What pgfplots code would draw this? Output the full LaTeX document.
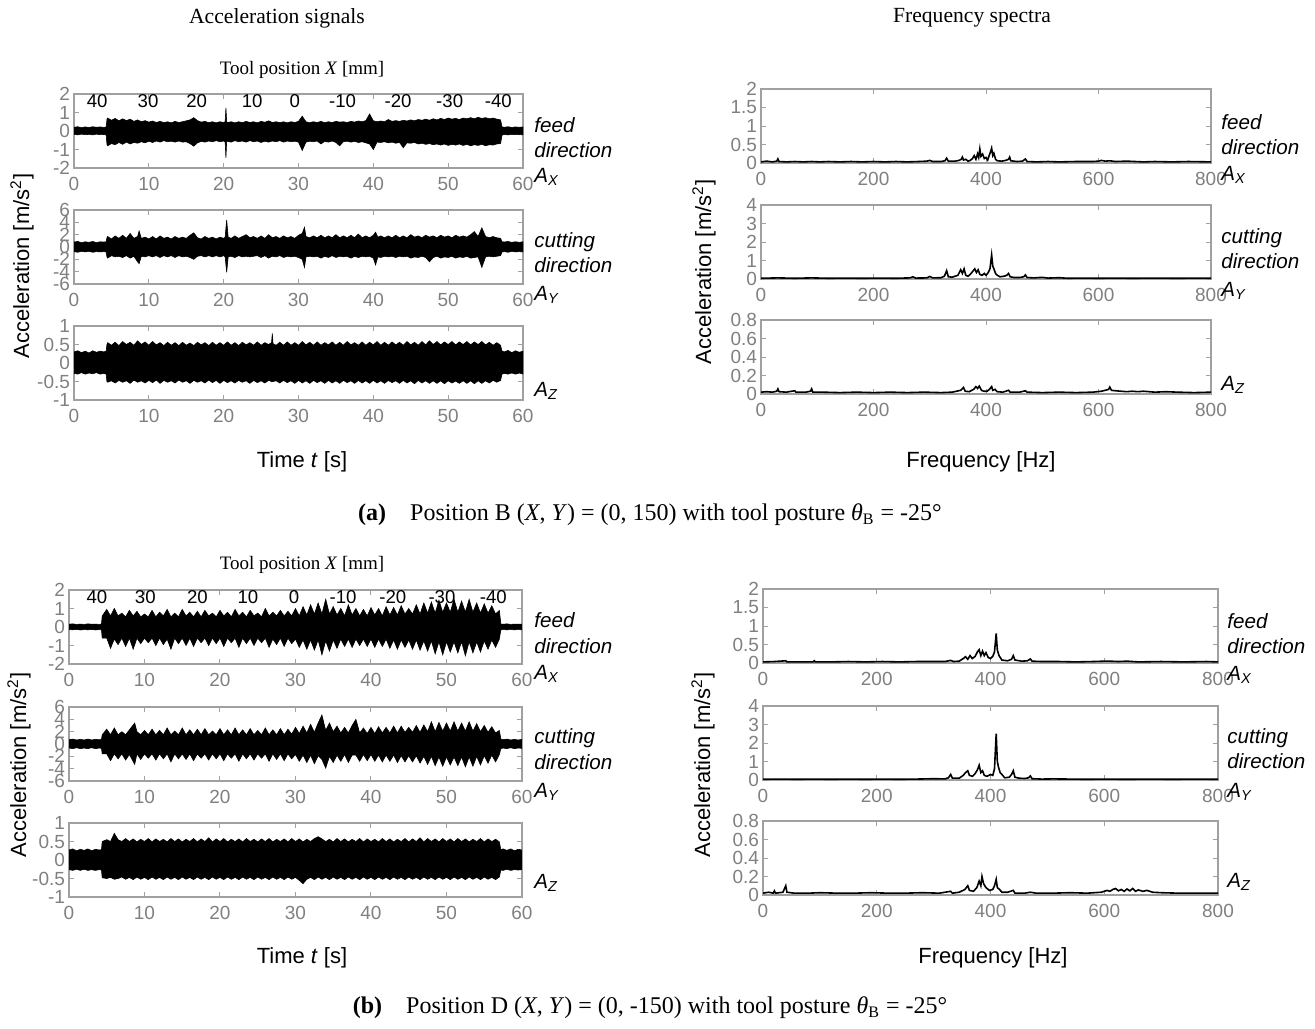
\documentclass[border=0pt]{standalone}
\usepackage{fontspec}
\setmainfont{Liberation Serif}
\setsansfont{Liberation Sans}
\usepackage{pgfplots}
\pgfplotsset{compat=1.18}
\usepackage{pgfplotstable}
\definecolor{axgray}{RGB}{160,160,160}
\definecolor{tgray}{RGB}{128,128,128}

\pgfplotsset{
  myax/.style={scale only axis, anchor=south west,
    axis line style={draw=axgray, line width=0.6pt},
    every tick/.style={draw=axgray, line width=0.5pt},
    major tick length=2.5pt, tick align=inside,
    tick label style={font=\sffamily\fontsize{9.5}{10}\selectfont, text=tgray},
    every x tick label/.append style={yshift=-1.2pt},
    every y tick label/.append style={xshift=1.5pt},
    /pgf/number format/assume math mode=true},
  tsig/.style={myax, xmin=0, xmax=60, xtick={0,10,...,60}, stack plots=y},
  spec/.style={myax, xmin=0, xmax=800, xtick={0,200,...,800}, ymin=0},
  sp/.style={black, line width=0.8pt},
}
\newcommand\band[1]{%
  \addplot[draw=none] table[x=t,y=l]{#1};
  \addplot[fill=black, draw=black, line width=0.3pt] table[x=t,y expr=\thisrow{u}-\thisrow{l}]{#1} \closedcycle;
}
\newcommand\toolp[2]{\node[anchor=north, inner sep=0.5pt, yshift=0.5pt, font=\sffamily\fontsize{9.3}{10}\selectfont] at (axis cs:#1,2) {#2};}
\newcommand\sidel[3]{\node[anchor=base west, inner sep=0pt, font=\sffamily\itshape\fontsize{10.3}{12}\selectfont] at (#1pt,#2pt) {#3};}

% ---------- time signals, panel (a) ----------
\pgfplotstableread[row sep=\\]{t u l\\
0 0.20 -0.18\\ 0.5 0.23 -0.21\\ 1 0.18 -0.17\\ 1.5 0.22 -0.2\\ 2 0.19 -0.18\\ 2.5 0.23 -0.21\\ 3 0.2 -0.17\\ 3.5 0.22 -0.2\\ 4 0.19 -0.19\\ 4.3 0.22 -0.21\\
4.4 0.62 -0.72\\ 4.5 0.7 -0.8\\ 5 0.58 -0.68\\ 5.5 0.68 -0.74\\ 6 0.55 -0.62\\ 6.5 0.66 -0.72\\ 7 0.56 -0.6\\ 7.5 0.64 -0.7\\ 8 0.52 -0.62\\ 8.5 0.6 -0.66\\ 9 0.5 -0.58\\ 9.5 0.56 -0.64\\
10 0.48 -0.55\\ 10.5 0.54 -0.62\\ 11 0.46 -0.54\\ 11.5 0.52 -0.6\\ 12 0.45 -0.52\\ 12.5 0.5 -0.58\\ 13 0.44 -0.55\\ 13.5 0.52 -0.6\\ 14 0.46 -0.54\\ 14.5 0.5 -0.6\\ 15 0.55 -0.58\\ 15.5 0.6 -0.68\\ 16 0.72 -0.82\\ 16.5 0.56 -0.64\\ 17 0.48 -0.56\\ 17.5 0.52 -0.6\\ 18 0.45 -0.54\\ 18.5 0.5 -0.58\\ 19 0.44 -0.52\\ 19.5 0.5 -0.58\\
20 0.46 -0.54\\ 20.2 0.5 -0.6\\ 20.3 1.25 -1.45\\ 20.4 0.52 -0.58\\ 20.5 0.45 -0.55\\ 21 0.5 -0.6\\ 21.5 0.44 -0.52\\ 22 0.5 -0.58\\ 22.5 0.45 -0.54\\ 23 0.52 -0.6\\ 23.5 0.46 -0.52\\ 24 0.5 -0.58\\ 24.5 0.44 -0.54\\ 25 0.52 -0.62\\ 25.5 0.47 -0.55\\ 26 0.55 -0.6\\ 26.5 0.46 -0.54\\ 27 0.5 -0.58\\ 27.5 0.45 -0.52\\ 28 0.5 -0.6\\ 28.5 0.44 -0.54\\ 29 0.5 -0.58\\ 29.5 0.46 -0.55\\
30 0.52 -0.6\\ 30.5 0.8 -1.05\\ 31 0.5 -0.6\\ 31.5 0.45 -0.55\\ 32 0.5 -0.58\\ 32.5 0.46 -0.54\\ 33 0.52 -0.7\\ 33.5 0.45 -0.56\\ 34 0.5 -0.6\\ 34.5 0.46 -0.54\\ 35 0.52 -0.62\\ 35.5 0.48 -0.8\\ 36 0.5 -0.58\\ 36.5 0.46 -0.55\\ 37 0.52 -0.6\\ 37.5 0.48 -0.56\\ 38 0.54 -0.62\\ 38.5 0.5 -0.58\\ 39 0.56 -0.64\\ 39.5 0.92 -0.7\\
40 0.55 -1.0\\ 40.5 0.5 -0.6\\ 41 0.54 -0.62\\ 41.5 0.5 -0.58\\ 42 0.62 -0.64\\ 42.5 0.52 -0.6\\ 43 0.56 -0.66\\ 43.5 0.52 -0.62\\ 44 0.58 -0.9\\ 44.5 0.54 -0.64\\ 45 0.6 -0.66\\ 45.5 0.55 -0.62\\ 46 0.62 -0.7\\ 46.5 0.58 -0.66\\ 47 0.64 -0.72\\ 47.5 0.58 -0.68\\ 48 0.66 -0.74\\ 48.5 0.6 -0.7\\ 49 0.68 -0.76\\ 49.5 0.62 -0.7\\
50 0.7 -0.78\\ 50.5 0.64 -0.72\\ 51 0.68 -0.76\\ 51.5 0.62 -0.7\\ 52 0.7 -0.78\\ 52.5 0.66 -0.72\\ 53 0.72 -0.8\\ 53.5 0.66 -0.74\\ 54 0.74 -0.78\\ 54.5 0.68 -0.72\\ 55 0.72 -0.8\\ 55.5 0.66 -0.74\\ 56 0.7 -0.76\\ 56.5 0.64 -0.7\\ 57 0.6 -0.68\\
57.2 0.22 -0.22\\ 57.5 0.2 -0.19\\ 58 0.23 -0.21\\ 58.5 0.19 -0.18\\ 59 0.22 -0.2\\ 59.5 0.2 -0.19\\ 60 0.22 -0.21\\
}\aAx

\pgfplotstableread[row sep=\\]{t u l\\
0 0.8 -0.75\\ 0.5 0.9 -0.85\\ 1 0.7 -0.7\\ 1.5 0.85 -0.8\\ 2 0.75 -0.7\\ 2.5 0.9 -0.85\\ 3 0.7 -0.75\\ 3.5 0.85 -0.8\\ 4 0.8 -0.75\\ 4.3 0.85 -0.8\\
4.4 1.5 -1.6\\ 4.5 1.7 -1.8\\ 5 1.3 -1.4\\ 5.5 1.8 -1.6\\ 6 1.4 -1.5\\ 6.5 1.9 -1.7\\ 7 1.4 -1.4\\ 7.5 2.2 -1.8\\ 8 1.4 -1.5\\ 8.5 1.7 -2.4\\ 8.7 2.6 -2.7\\ 9 1.4 -1.5\\ 9.5 1.6 -1.6\\
10 1.3 -1.4\\ 10.5 1.7 -1.6\\ 11 1.3 -1.4\\ 11.5 1.8 -1.7\\ 12 1.4 -1.4\\ 12.5 1.6 -1.6\\ 13 1.3 -1.4\\ 13.5 1.7 -1.7\\ 14 1.4 -1.4\\ 14.5 1.6 -1.6\\ 15 1.4 -1.5\\ 15.5 1.9 -1.7\\ 16 2.3 -2.0\\ 16.5 1.5 -1.5\\ 17 1.3 -1.4\\ 17.5 1.7 -1.6\\ 18 1.4 -1.4\\ 18.5 1.6 -1.6\\ 19 1.3 -1.4\\ 19.5 1.6 -1.6\\
20 1.4 -1.4\\ 20.2 1.6 -1.6\\ 20.4 4.4 -4.1\\ 20.6 1.6 -1.6\\ 21 1.4 -1.5\\ 21.5 1.8 -1.7\\ 22 1.4 -1.4\\ 22.5 1.7 -1.6\\ 23 2.0 -1.5\\ 23.5 1.5 -1.6\\ 24 1.7 -1.5\\ 24.5 1.4 -1.4\\ 25 1.8 -1.7\\ 25.5 1.4 -1.4\\ 26 2.0 -1.8\\ 26.5 1.5 -1.5\\ 27 1.7 -1.6\\ 27.5 1.4 -1.4\\ 28 1.8 -1.7\\ 28.5 1.5 -1.5\\ 29 1.7 -1.6\\ 29.5 1.4 -1.5\\
30 1.9 -1.7\\ 30.5 2.2 -2.0\\ 30.8 3.2 -3.3\\ 31 1.7 -1.6\\ 31.5 1.5 -1.5\\ 32 1.8 -1.6\\ 32.5 1.5 -1.5\\ 33 1.9 -1.8\\ 33.5 1.5 -1.5\\ 34 1.8 -1.7\\ 34.5 1.5 -1.4\\ 35 2.0 -1.7\\ 35.5 1.5 -1.5\\ 36 1.8 -1.6\\ 36.5 1.5 -1.5\\ 37 1.9 -1.8\\ 37.5 1.5 -1.5\\ 38 2.1 -1.7\\ 38.5 1.5 -1.5\\ 39 1.8 -1.6\\ 39.5 1.5 -1.5\\
40 1.9 -1.8\\ 40.3 2.4 -2.9\\ 40.6 1.6 -1.6\\ 41 1.8 -1.7\\ 41.5 1.5 -1.5\\ 42 1.8 -1.6\\ 42.5 1.5 -1.5\\ 43 1.9 -1.7\\ 43.5 1.5 -1.5\\ 44 1.8 -1.6\\ 44.5 1.5 -1.5\\ 45 2.0 -1.8\\ 45.5 1.6 -1.6\\ 46 1.8 -1.7\\ 46.5 1.5 -1.5\\ 47 1.9 -1.7\\ 47.5 1.6 -2.4\\ 48 1.8 -1.7\\ 48.5 1.5 -1.5\\ 49 1.9 -1.8\\ 49.5 1.6 -1.6\\
50 1.8 -1.7\\ 50.5 1.5 -1.5\\ 51 1.9 -1.8\\ 51.5 1.6 -1.6\\ 52 1.8 -1.7\\ 52.5 1.6 -1.5\\ 53 2.0 -1.8\\ 53.5 2.5 -1.7\\ 54 1.7 -1.6\\ 54.5 3.1 -3.3\\ 55 1.7 -1.6\\ 55.5 1.5 -1.5\\ 56 1.7 -1.6\\ 56.5 1.5 -1.5\\ 57 1.4 -1.4\\
57.2 0.85 -0.8\\ 57.5 0.8 -0.75\\ 58 0.9 -0.85\\ 58.5 0.75 -0.7\\ 59 0.85 -0.8\\ 59.5 0.75 -0.75\\ 60 0.85 -0.8\\
}\aAy

\pgfplotstableread[row sep=\\]{t u l\\
0 0.3 -0.28\\ 0.5 0.33 -0.3\\ 1 0.28 -0.26\\ 1.5 0.32 -0.3\\ 2 0.27 -0.27\\ 2.5 0.33 -0.29\\ 3 0.29 -0.26\\ 3.5 0.32 -0.3\\ 4 0.3 -0.28\\ 4.3 0.32 -0.3\\
4.4 0.5 -0.5\\ 4.5 0.55 -0.52\\ 5 0.48 -0.48\\ 5.5 0.56 -0.54\\ 6 0.47 -0.47\\ 6.5 0.58 -0.52\\ 7 0.5 -0.48\\ 7.5 0.56 -0.55\\ 8 0.48 -0.46\\ 8.5 0.6 -0.52\\ 9 0.5 -0.48\\ 9.5 0.57 -0.54\\
10 0.48 -0.47\\ 10.5 0.58 -0.53\\ 11 0.49 -0.46\\ 11.5 0.55 -0.55\\ 12 0.47 -0.47\\ 12.5 0.56 -0.52\\ 13 0.48 -0.48\\ 13.5 0.55 -0.54\\ 14 0.47 -0.46\\ 14.5 0.56 -0.52\\ 15 0.48 -0.48\\ 15.5 0.54 -0.55\\ 16 0.47 -0.47\\ 16.5 0.56 -0.52\\ 17 0.49 -0.48\\ 17.5 0.55 -0.54\\ 18 0.47 -0.46\\ 18.5 0.56 -0.53\\ 19 0.48 -0.47\\ 19.5 0.55 -0.55\\
20 0.48 -0.47\\ 20.5 0.57 -0.53\\ 21 0.48 -0.48\\ 21.5 0.55 -0.54\\ 22 0.47 -0.47\\ 22.5 0.56 -0.52\\ 23 0.49 -0.48\\ 23.5 0.55 -0.55\\ 24 0.48 -0.47\\ 24.5 0.57 -0.53\\ 25 0.48 -0.48\\ 25.5 0.55 -0.54\\ 26 0.5 -0.47\\ 26.4 0.55 -0.5\\ 26.5 0.8 -0.5\\ 26.6 0.52 -0.5\\ 27 0.48 -0.48\\ 27.5 0.56 -0.54\\ 28 0.48 -0.47\\ 28.5 0.57 -0.53\\ 29 0.48 -0.48\\ 29.5 0.55 -0.55\\
30 0.48 -0.47\\ 30.5 0.58 -0.54\\ 31 0.49 -0.48\\ 31.5 0.56 -0.55\\ 32 0.48 -0.47\\ 32.5 0.57 -0.53\\ 33 0.48 -0.48\\ 33.5 0.55 -0.55\\ 34 0.49 -0.47\\ 34.5 0.57 -0.54\\ 35 0.48 -0.48\\ 35.5 0.56 -0.55\\ 36 0.48 -0.47\\ 36.5 0.58 -0.53\\ 37 0.49 -0.48\\ 37.5 0.55 -0.55\\ 38 0.48 -0.47\\ 38.5 0.57 -0.54\\ 39 0.48 -0.48\\ 39.5 0.56 -0.55\\
40 0.49 -0.47\\ 40.5 0.58 -0.54\\ 41 0.48 -0.48\\ 41.5 0.56 -0.55\\ 42 0.48 -0.47\\ 42.5 0.57 -0.53\\ 43 0.49 -0.48\\ 43.5 0.56 -0.55\\ 44 0.48 -0.47\\ 44.5 0.58 -0.54\\ 45 0.49 -0.48\\ 45.5 0.56 -0.56\\ 46 0.48 -0.47\\ 46.5 0.58 -0.54\\ 47 0.49 -0.48\\ 47.5 0.6 -0.55\\ 48 0.5 -0.48\\ 48.5 0.58 -0.55\\ 49 0.49 -0.48\\ 49.5 0.57 -0.56\\
50 0.5 -0.48\\ 50.5 0.58 -0.54\\ 51 0.49 -0.49\\ 51.5 0.57 -0.55\\ 52 0.5 -0.48\\ 52.5 0.58 -0.55\\ 53 0.49 -0.48\\ 53.5 0.57 -0.56\\ 54 0.5 -0.48\\ 54.5 0.58 -0.55\\ 55 0.49 -0.48\\ 55.5 0.56 -0.54\\ 56 0.48 -0.47\\ 56.5 0.55 -0.52\\ 57 0.48 -0.47\\
57.2 0.32 -0.3\\ 57.5 0.3 -0.28\\ 58 0.34 -0.3\\ 58.5 0.28 -0.27\\ 59 0.33 -0.3\\ 59.5 0.29 -0.27\\ 60 0.32 -0.3\\
}\aAz

% ---------- time signals, panel (b) ----------
\pgfplotstableread[row sep=\\]{t u l\\
0 0.15 -0.14\\ 0.5 0.17 -0.15\\ 1 0.14 -0.13\\ 1.5 0.16 -0.16\\ 2 0.14 -0.14\\ 2.5 0.17 -0.15\\ 3 0.15 -0.13\\ 3.5 0.16 -0.16\\ 4 0.14 -0.14\\ 4.3 0.16 -0.15\\
4.4 0.6 -0.6\\ 5 0.95 -0.6\\ 5.5 0.6 -1.15\\ 6 1.0 -0.65\\ 6.5 0.6 -0.95\\ 7 0.75 -0.6\\ 7.5 0.55 -1.05\\ 8 0.9 -0.6\\ 8.5 0.6 -1.2\\ 9 0.85 -0.6\\ 9.5 0.55 -0.9\\
10 0.7 -0.6\\ 10.5 0.55 -0.85\\ 11 0.9 -0.6\\ 11.5 0.55 -1.0\\ 12 0.8 -0.6\\ 12.5 0.6 -0.95\\ 13 0.95 -0.65\\ 13.5 0.55 -1.2\\ 14 0.75 -0.6\\ 14.5 0.55 -0.9\\ 15 0.95 -0.6\\ 15.5 0.6 -1.0\\ 16 0.8 -0.6\\ 16.5 0.55 -1.05\\ 17 0.85 -0.6\\ 17.5 0.55 -0.85\\ 18 0.9 -0.6\\ 18.5 0.6 -1.0\\ 19 0.75 -0.6\\ 19.5 0.55 -0.9\\
20 0.9 -0.6\\ 20.5 0.6 -1.05\\ 21 0.8 -0.6\\ 21.5 0.55 -0.85\\ 22 0.95 -0.6\\ 22.5 0.6 -1.1\\ 23 0.8 -0.6\\ 23.5 0.55 -0.9\\ 24 0.9 -0.6\\ 24.5 0.6 -1.0\\ 25 0.75 -0.6\\ 25.5 0.55 -0.85\\ 26 1.0 -0.6\\ 26.5 0.6 -1.1\\ 27 0.8 -0.65\\ 27.5 0.6 -0.95\\ 28 0.9 -0.6\\ 28.5 0.6 -1.05\\ 29 0.85 -0.6\\ 29.5 0.6 -0.9\\
30 1.0 -0.65\\ 30.5 0.6 -1.1\\ 31 1.1 -0.7\\ 31.5 0.65 -1.2\\ 32 1.2 -0.7\\ 32.5 0.7 -1.25\\ 33 1.3 -0.7\\ 33.5 0.7 -1.5\\ 34 1.5 -0.75\\ 34.5 0.7 -1.3\\ 35 1.1 -0.7\\ 35.5 0.65 -1.15\\ 36 1.0 -0.65\\ 36.5 0.6 -1.05\\ 37 1.2 -0.65\\ 37.5 0.65 -1.1\\ 38 1.0 -0.65\\ 38.5 0.6 -1.0\\ 39 0.95 -0.65\\ 39.5 0.6 -1.05\\
40 1.05 -0.65\\ 40.5 0.65 -1.1\\ 41 1.0 -0.65\\ 41.5 0.6 -1.05\\ 42 1.1 -0.65\\ 42.5 0.65 -1.15\\ 43 1.05 -0.7\\ 43.5 0.65 -1.2\\ 44 1.15 -0.7\\ 44.5 0.7 -1.1\\ 45 1.0 -0.7\\ 45.5 0.7 -1.2\\ 46 1.2 -0.7\\ 46.5 0.7 -1.25\\ 47 1.3 -0.75\\ 47.5 0.75 -1.3\\ 48 1.35 -0.75\\ 48.5 0.75 -1.45\\ 49 1.45 -0.8\\ 49.5 0.8 -1.5\\
50 1.3 -0.8\\ 50.5 0.8 -1.35\\ 51 1.5 -0.8\\ 51.5 0.8 -1.4\\ 52 1.4 -0.8\\ 52.5 0.8 -1.55\\ 53 1.5 -0.8\\ 53.5 0.8 -1.4\\ 54 1.3 -0.8\\ 54.5 0.75 -1.35\\ 55 1.25 -0.75\\ 55.5 0.75 -1.2\\ 56 1.15 -0.7\\ 56.5 0.7 -1.1\\ 57 0.9 -0.65\\
57.2 0.16 -0.15\\ 57.5 0.15 -0.14\\ 58 0.17 -0.15\\ 58.5 0.14 -0.14\\ 59 0.16 -0.15\\ 59.5 0.15 -0.14\\ 60 0.16 -0.15\\
}\bAx

\pgfplotstableread[row sep=\\]{t u l\\
0 0.7 -0.65\\ 0.5 0.8 -0.75\\ 1 0.65 -0.6\\ 1.5 0.75 -0.75\\ 2 0.65 -0.65\\ 2.5 0.8 -0.75\\ 3 0.65 -0.6\\ 3.5 0.75 -0.75\\ 4 0.7 -0.65\\ 4.3 0.75 -0.7\\
4.4 1.5 -1.6\\ 5 2.4 -1.6\\ 5.5 1.5 -2.7\\ 6 2.6 -1.6\\ 6.5 1.5 -2.4\\ 7 2.0 -1.6\\ 7.5 1.5 -2.6\\ 8 2.3 -1.7\\ 8.7 3.4 -3.3\\ 9 2.0 -1.6\\ 9.5 1.5 -2.5\\
10 2.2 -1.6\\ 10.5 1.5 -2.3\\ 11 2.4 -1.6\\ 11.5 1.5 -2.6\\ 12 2.2 -1.6\\ 12.5 1.5 -2.4\\ 13 2.6 -1.6\\ 13.5 1.5 -2.9\\ 14 2.1 -1.6\\ 14.5 1.5 -2.4\\ 15 2.6 -1.6\\ 15.5 1.5 -2.5\\ 16 2.3 -1.6\\ 16.5 1.5 -2.7\\ 17 2.4 -1.6\\ 17.5 1.5 -2.3\\ 18 2.5 -1.6\\ 18.5 1.5 -2.6\\ 19 2.1 -1.6\\ 19.5 1.5 -2.4\\
20 2.5 -1.6\\ 20.5 1.5 -2.7\\ 21 2.3 -1.6\\ 21.5 1.5 -2.3\\ 22 2.6 -1.6\\ 22.5 1.5 -2.8\\ 23 2.3 -1.6\\ 23.5 1.5 -2.4\\ 24 2.5 -1.6\\ 24.5 1.5 -2.6\\ 25 2.2 -1.6\\ 25.5 1.5 -2.3\\ 26 2.6 -1.6\\ 26.5 1.5 -2.8\\ 27 2.3 -1.6\\ 27.5 1.5 -2.5\\ 28 2.5 -1.6\\ 28.5 1.5 -2.7\\ 29 2.4 -1.6\\ 29.5 1.6 -2.4\\
30 2.7 -1.7\\ 30.5 1.7 -2.8\\ 31 2.9 -1.8\\ 31.5 1.8 -3.0\\ 32 3.2 -1.8\\ 32.5 1.9 -3.2\\ 33 3.4 -1.9\\ 33.5 4.7 -2.5\\ 34 2.2 -3.9\\ 34.5 3.4 -2.0\\ 35 2.0 -3.0\\ 35.5 2.9 -1.8\\ 36 1.8 -2.8\\ 36.5 2.7 -1.7\\ 37 1.8 -3.0\\ 37.5 3.0 -1.8\\ 38 4.0 -1.8\\ 38.5 1.8 -2.8\\ 39 2.6 -1.7\\ 39.5 1.7 -2.7\\
40 2.7 -1.7\\ 40.5 1.7 -2.8\\ 41 2.8 -1.8\\ 41.5 1.8 -2.9\\ 42 2.7 -1.8\\ 42.5 1.8 -2.8\\ 43 2.9 -1.8\\ 43.5 1.8 -3.0\\ 44 2.9 -1.9\\ 44.5 1.9 -2.9\\ 45 2.7 -1.9\\ 45.5 1.9 -2.9\\ 46 3.0 -1.9\\ 46.5 1.9 -3.1\\ 47 3.1 -2.0\\ 47.5 2.0 -3.3\\ 48 3.6 -2.0\\ 48.5 2.0 -3.5\\ 49 3.5 -2.1\\ 49.5 2.1 -3.6\\
50 3.4 -2.1\\ 50.5 2.1 -3.4\\ 51 3.6 -2.1\\ 51.5 2.1 -3.5\\ 52 3.4 -2.1\\ 52.5 2.1 -3.7\\ 53 3.6 -2.1\\ 53.5 2.1 -3.6\\ 54 3.3 -2.0\\ 54.5 2.0 -3.4\\ 55 3.0 -1.9\\ 55.5 1.9 -3.1\\ 56 2.8 -1.8\\ 56.5 1.8 -2.9\\ 57 2.2 -1.7\\
57.2 0.8 -0.75\\ 57.5 0.7 -0.65\\ 58 0.8 -0.75\\ 58.5 0.65 -0.6\\ 59 0.75 -0.75\\ 59.5 0.65 -0.65\\ 60 0.75 -0.7\\
}\bAy

\pgfplotstableread[row sep=\\]{t u l\\
0 0.27 -0.26\\ 0.5 0.3 -0.28\\ 1 0.25 -0.25\\ 1.5 0.29 -0.28\\ 2 0.26 -0.25\\ 2.5 0.3 -0.28\\ 3 0.25 -0.26\\ 3.5 0.29 -0.28\\ 4 0.27 -0.26\\ 4.3 0.28 -0.27\\
4.4 0.5 -0.48\\ 5 0.55 -0.5\\ 5.5 0.5 -0.47\\ 6 0.72 -0.52\\ 6.5 0.55 -0.5\\ 7 0.5 -0.46\\ 7.5 0.58 -0.52\\ 8 0.5 -0.47\\ 8.5 0.57 -0.53\\ 9 0.49 -0.46\\ 9.5 0.56 -0.52\\
10 0.5 -0.47\\ 10.5 0.58 -0.53\\ 11 0.49 -0.46\\ 11.5 0.57 -0.52\\ 12 0.5 -0.47\\ 12.5 0.56 -0.53\\ 13 0.49 -0.46\\ 13.5 0.58 -0.52\\ 14 0.5 -0.47\\ 14.5 0.57 -0.53\\ 15 0.49 -0.46\\ 15.5 0.56 -0.52\\ 16 0.5 -0.47\\ 16.5 0.58 -0.53\\ 17 0.49 -0.46\\ 17.5 0.57 -0.52\\ 18 0.5 -0.47\\ 18.5 0.6 -0.53\\ 19 0.49 -0.46\\ 19.5 0.57 -0.52\\
20 0.5 -0.47\\ 20.5 0.58 -0.53\\ 21 0.49 -0.46\\ 21.5 0.56 -0.52\\ 22 0.5 -0.47\\ 22.5 0.57 -0.53\\ 23 0.49 -0.46\\ 23.5 0.58 -0.52\\ 24 0.5 -0.47\\ 24.5 0.56 -0.53\\ 25 0.49 -0.46\\ 25.5 0.57 -0.52\\ 26 0.5 -0.47\\ 26.5 0.58 -0.53\\ 27 0.49 -0.46\\ 27.5 0.56 -0.52\\ 28 0.5 -0.47\\ 28.5 0.57 -0.53\\ 29 0.49 -0.46\\ 29.5 0.58 -0.52\\
30 0.5 -0.47\\ 30.5 0.57 -0.55\\ 31 0.49 -0.64\\ 31.5 0.56 -0.52\\ 32 0.5 -0.47\\ 32.5 0.58 -0.53\\ 33 0.63 -0.46\\ 33.5 0.57 -0.52\\ 34 0.5 -0.47\\ 34.5 0.56 -0.53\\ 35 0.49 -0.46\\ 35.5 0.58 -0.52\\ 36 0.5 -0.47\\ 36.5 0.57 -0.53\\ 37 0.49 -0.46\\ 37.5 0.56 -0.52\\ 38 0.5 -0.47\\ 38.5 0.58 -0.53\\ 39 0.49 -0.46\\ 39.5 0.57 -0.52\\
40 0.5 -0.47\\ 40.5 0.56 -0.53\\ 41 0.49 -0.46\\ 41.5 0.58 -0.52\\ 42 0.5 -0.47\\ 42.5 0.57 -0.53\\ 43 0.49 -0.46\\ 43.5 0.56 -0.52\\ 44 0.5 -0.47\\ 44.5 0.58 -0.53\\ 45 0.49 -0.46\\ 45.5 0.57 -0.52\\ 46 0.5 -0.47\\ 46.5 0.6 -0.53\\ 47 0.49 -0.46\\ 47.5 0.58 -0.52\\ 48 0.5 -0.47\\ 48.5 0.57 -0.53\\ 49 0.49 -0.46\\ 49.5 0.58 -0.52\\
50 0.5 -0.47\\ 50.5 0.57 -0.53\\ 51 0.49 -0.46\\ 51.5 0.58 -0.52\\ 52 0.5 -0.47\\ 52.5 0.57 -0.53\\ 53 0.49 -0.46\\ 53.5 0.56 -0.52\\ 54 0.5 -0.47\\ 54.5 0.58 -0.53\\ 55 0.49 -0.46\\ 55.5 0.57 -0.52\\ 56 0.5 -0.47\\ 56.5 0.56 -0.53\\ 57 0.49 -0.46\\
57.2 0.28 -0.27\\ 57.5 0.3 -0.28\\ 58 0.26 -0.25\\ 58.5 0.3 -0.28\\ 59 0.25 -0.26\\ 59.5 0.29 -0.27\\ 60 0.27 -0.26\\
}\bAz

\begin{document}
\begin{tikzpicture}
\path[use as bounding box] (0,0) rectangle (657.5pt,-514pt);

% headers
\node[font=\fontsize{10.8}{12}\selectfont] at (138.5pt,-9pt) {Acceleration signals};
\node[font=\fontsize{10.8}{12}\selectfont] at (486pt,-9pt) {Frequency spectra};
\node[font=\fontsize{9.5}{11}\selectfont] at (151pt,-35pt) {Tool position \textit{X} [mm]};
\node[font=\fontsize{9.5}{11}\selectfont] at (151pt,-282.5pt) {Tool position \textit{X} [mm]};

% ===================== panel (a), left =====================
\begin{axis}[tsig, at={(37pt,-84pt)}, width=224.5pt, height=37pt, ymin=-2, ymax=2, ytick={-2,-1,0,1,2}]
\band{\aAx}
\toolp{3.1}{40}\toolp{9.9}{30}\toolp{16.4}{20}\toolp{23.8}{10}\toolp{29.5}{0}\toolp{35.9}{-10}\toolp{43.3}{-20}\toolp{50.2}{-30}\toolp{56.7}{-40}
\end{axis}
\begin{axis}[tsig, at={(37pt,-142pt)}, width=224.5pt, height=37pt, ymin=-6, ymax=6, ytick={-6,-4,...,6}]
\band{\aAy}
\end{axis}
\begin{axis}[tsig, at={(37pt,-200pt)}, width=224.5pt, height=37pt, ymin=-1, ymax=1, ytick={-1,-0.5,0,0.5,1}]
\band{\aAz}
\end{axis}

% ===================== panel (a), right =====================
\begin{axis}[spec, at={(380.5pt,-81.5pt)}, width=225pt, height=37pt, ymax=2, ytick={0,0.5,1,1.5,2}]
\addplot[sp] coordinates {(0,.03)(10,.05)(20,.03)(28,.05)(30,.11)(32,.04)(45,.03)(60,.04)(75,.03)(90,.04)(105,.03)(120,.04)(140,.03)(160,.04)(180,.03)(200,.04)(220,.03)(240,.04)(260,.03)(280,.04)(295,.05)(300,.07)(305,.04)(320,.04)(327,.06)(330,.13)(333,.05)(345,.05)(352,.07)(356,.1)(358,.16)(360,.08)(364,.1)(368,.05)(372,.07)(376,.12)(379,.2)(382,.1)(385,.25)(387,.15)(389,.38)(391,.18)(394,.24)(397,.12)(400,.15)(403,.08)(406,.22)(408,.3)(410,.4)(412,.2)(414,.26)(417,.1)(420,.06)(428,.05)(435,.07)(440,.1)(442,.16)(444,.06)(455,.04)(465,.05)(470,.11)(473,.04)(490,.03)(510,.04)(530,.03)(560,.04)(590,.04)(600,.05)(605,.07)(612,.05)(620,.06)(630,.04)(650,.05)(680,.03)(700,.04)(730,.03)(760,.04)(800,.03)};
\end{axis}
\begin{axis}[spec, at={(380.5pt,-139.5pt)}, width=225pt, height=37pt, ymax=4, ytick={0,1,2,3,4}]
\addplot[sp] coordinates {(0,.04)(30,.06)(60,.04)(90,.06)(120,.04)(150,.05)(180,.04)(210,.05)(240,.04)(265,.06)(270,.12)(275,.05)(295,.06)(300,.14)(305,.06)(320,.07)(326,.15)(330,.45)(333,.12)(340,.1)(350,.2)(355,.5)(358,.3)(361,.55)(364,.2)(368,.15)(372,.25)(376,.4)(380,.55)(383,.35)(386,.5)(389,.25)(393,.2)(397,.3)(400,.2)(404,.35)(407,.55)(410,1.3)(412,.7)(414,.55)(417,.3)(420,.2)(425,.12)(432,.15)(437,.2)(440,.3)(443,.12)(450,.08)(460,.08)(467,.12)(470,.22)(473,.08)(485,.06)(500,.09)(510,.05)(530,.07)(545,.04)(570,.05)(600,.04)(630,.05)(660,.04)(700,.05)(740,.04)(780,.05)(800,.04)};
\end{axis}
\begin{axis}[spec, at={(380.5pt,-197pt)}, width=225pt, height=37pt, ymax=0.8, ytick={0,0.2,0.4,0.6,0.8}]
\addplot[sp] coordinates {(0,.02)(10,.025)(20,.02)(28,.03)(30,.055)(32,.025)(45,.02)(55,.03)(60,.035)(62,.02)(80,.02)(88,.03)(90,.055)(92,.02)(110,.02)(140,.015)(170,.02)(200,.015)(230,.02)(260,.015)(290,.02)(320,.015)(340,.02)(355,.04)(360,.07)(363,.03)(370,.025)(378,.05)(382,.08)(385,.06)(388,.085)(392,.04)(396,.03)(402,.03)(406,.05)(410,.08)(412,.04)(416,.05)(420,.025)(430,.02)(440,.04)(443,.02)(460,.02)(470,.035)(473,.02)(500,.015)(530,.02)(560,.015)(590,.02)(605,.03)(612,.04)(618,.05)(620,.075)(623,.04)(630,.035)(640,.03)(650,.025)(660,.03)(670,.025)(680,.03)(700,.02)(720,.025)(740,.02)(770,.015)(800,.02)};
\end{axis}

% ===================== panel (b), left =====================
\begin{axis}[tsig, at={(34.5pt,-332pt)}, width=226.5pt, height=37pt, ymin=-2, ymax=2, ytick={-2,-1,0,1,2}]
\band{\bAx}
\toolp{3.7}{40}\toolp{10.1}{30}\toolp{17.0}{20}\toolp{23.7}{10}\toolp{29.8}{0}\toolp{36.3}{-10}\toolp{42.9}{-20}\toolp{49.4}{-30}\toolp{56.2}{-40}
\end{axis}
\begin{axis}[tsig, at={(34.5pt,-390.5pt)}, width=226.5pt, height=37pt, ymin=-6, ymax=6, ytick={-6,-4,...,6}]
\band{\bAy}
\end{axis}
\begin{axis}[tsig, at={(34.5pt,-448.5pt)}, width=226.5pt, height=37pt, ymin=-1, ymax=1, ytick={-1,-0.5,0,0.5,1}]
\band{\bAz}
\end{axis}

% ===================== panel (b), right =====================
\begin{axis}[spec, at={(381.5pt,-331.5pt)}, width=227.5pt, height=37pt, ymax=2, ytick={0,0.5,1,1.5,2}]
\addplot[sp] coordinates {(0,.03)(20,.04)(40,.06)(42,.03)(60,.03)(88,.03)(90,.06)(92,.03)(120,.03)(150,.04)(180,.03)(210,.04)(240,.03)(270,.04)(300,.04)(320,.04)(330,.07)(335,.04)(345,.05)(352,.12)(356,.17)(360,.1)(364,.2)(368,.12)(373,.18)(377,.3)(380,.36)(383,.2)(386,.32)(389,.2)(392,.28)(396,.15)(400,.12)(404,.18)(407,.3)(410,.8)(412,.35)(415,.2)(420,.08)(430,.06)(437,.1)(440,.2)(443,.08)(455,.05)(465,.06)(470,.11)(473,.05)(490,.04)(520,.04)(550,.03)(580,.04)(600,.05)(610,.05)(625,.04)(640,.05)(660,.03)(700,.04)(740,.03)(780,.04)(800,.03)};
\end{axis}
\begin{axis}[spec, at={(381.5pt,-390pt)}, width=227.5pt, height=37pt, ymax=4, ytick={0,1,2,3,4}]
\addplot[sp] coordinates {(0,.04)(30,.05)(60,.04)(90,.05)(120,.04)(150,.05)(180,.04)(210,.05)(240,.04)(270,.05)(300,.07)(320,.06)(326,.12)(330,.3)(333,.1)(345,.1)(352,.25)(356,.4)(360,.5)(363,.25)(368,.2)(373,.35)(377,.55)(380,.8)(383,.4)(386,.5)(389,.25)(394,.2)(400,.3)(404,.25)(407,.6)(410,2.5)(412,1.0)(414,.7)(417,.4)(420,.3)(425,.12)(433,.15)(437,.3)(440,.5)(443,.15)(450,.1)(460,.08)(467,.12)(470,.22)(473,.07)(490,.05)(510,.06)(540,.05)(570,.04)(600,.05)(640,.04)(680,.05)(720,.04)(760,.05)(800,.04)};
\end{axis}
\begin{axis}[spec, at={(381.5pt,-447.5pt)}, width=227.5pt, height=37pt, ymax=0.8, ytick={0,0.2,0.4,0.6,0.8}]
\addplot[sp] coordinates {(0,.02)(10,.03)(18,.02)(20,.045)(22,.02)(35,.03)(40,.1)(42,.03)(55,.02)(80,.02)(100,.025)(130,.02)(160,.02)(190,.025)(220,.02)(250,.02)(280,.025)(310,.02)(330,.04)(333,.02)(345,.03)(355,.06)(360,.1)(363,.05)(370,.04)(376,.08)(380,.15)(383,.1)(385,.2)(388,.12)(392,.08)(398,.05)(404,.06)(407,.1)(410,.17)(412,.08)(416,.06)(420,.03)(430,.03)(440,.05)(443,.02)(460,.02)(470,.03)(480,.02)(510,.02)(540,.025)(570,.02)(595,.03)(605,.05)(610,.04)(615,.06)(620,.07)(625,.045)(630,.06)(635,.04)(640,.065)(645,.045)(650,.07)(655,.04)(660,.055)(668,.04)(675,.05)(685,.03)(700,.025)(730,.02)(760,.02)(800,.02)};
\end{axis}

% y labels
\node[rotate=90, font=\sffamily\fontsize{11}{12}\selectfont] at (11pt,-133pt) {Acceleration [m/s\textsuperscript{2}]};
\node[rotate=90, font=\sffamily\fontsize{11}{12}\selectfont] at (352pt,-136pt) {Acceleration [m/s\textsuperscript{2}]};
\node[rotate=90, font=\sffamily\fontsize{11}{12}\selectfont] at (9.5pt,-382.5pt) {Acceleration [m/s\textsuperscript{2}]};
\node[rotate=90, font=\sffamily\fontsize{11}{12}\selectfont] at (351.5pt,-382.5pt) {Acceleration [m/s\textsuperscript{2}]};

% x labels
\node[font=\sffamily\fontsize{11}{12}\selectfont] at (151pt,-231pt) {Time \textit{t} [s]};
\node[font=\sffamily\fontsize{11}{12}\selectfont] at (490.5pt,-231pt) {Frequency [Hz]};
\node[font=\sffamily\fontsize{11}{12}\selectfont] at (151pt,-479pt) {Time \textit{t} [s]};
\node[font=\sffamily\fontsize{11}{12}\selectfont] at (496.5pt,-479pt) {Frequency [Hz]};

% side labels (a)
\sidel{267}{-66}{feed}\sidel{267}{-78.5}{direction}\sidel{267}{-91}{A\textsubscript{X}}
\sidel{267}{-123.5}{cutting}\sidel{267}{-136}{direction}\sidel{267}{-150}{A\textsubscript{Y}}
\sidel{267}{-198}{A\textsubscript{Z}}
\sidel{610.5}{-64.5}{feed}\sidel{610.5}{-77}{direction}\sidel{610.5}{-90}{A\textsubscript{X}}
\sidel{610.5}{-121.5}{cutting}\sidel{610.5}{-134}{direction}\sidel{610.5}{-148}{A\textsubscript{Y}}
\sidel{610.5}{-195}{A\textsubscript{Z}}
% side labels (b)
\sidel{267}{-313.5}{feed}\sidel{267}{-326.5}{direction}\sidel{267}{-339.5}{A\textsubscript{X}}
\sidel{267}{-371.5}{cutting}\sidel{267}{-384.5}{direction}\sidel{267}{-398.5}{A\textsubscript{Y}}
\sidel{267}{-444}{A\textsubscript{Z}}
\sidel{613.5}{-314}{feed}\sidel{613.5}{-326.5}{direction}\sidel{613.5}{-340}{A\textsubscript{X}}
\sidel{613.5}{-371.5}{cutting}\sidel{613.5}{-384}{direction}\sidel{613.5}{-398.5}{A\textsubscript{Y}}
\sidel{613.5}{-443.5}{A\textsubscript{Z}}

% captions
\node[font=\fontsize{12}{14}\selectfont] at (325pt,-257.5pt) {\textbf{(a)}\hspace{1em}Position B (\textit{X}, \textit{Y}) = (0, 150) with tool posture \textit{θ}\textsubscript{B} = -25°};
\node[font=\fontsize{12}{14}\selectfont] at (325pt,-504pt) {\textbf{(b)}\hspace{1em}Position D (\textit{X}, \textit{Y}) = (0, -150) with tool posture \textit{θ}\textsubscript{B} = -25°};
\end{tikzpicture}
\end{document}
